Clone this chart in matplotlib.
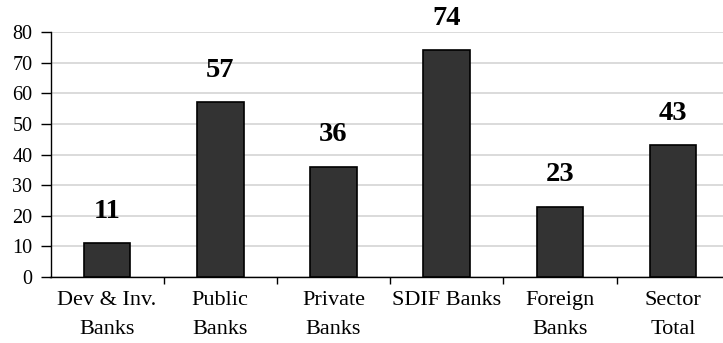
import matplotlib.pyplot as plt
import numpy as np

# 数据
categories = ['Dev & Inv.\nBanks', 'Public\nBanks', 'Private\nBanks',
              'SDIF Banks', 'Foreign\nBanks', 'Sector\nTotal']
values = [11, 57, 36, 74, 23, 43]

plt.rcParams['font.family'] = ['Liberation Serif', 'DejaVu Serif']

fig = plt.figure(figsize=(7.23, 3.43), dpi=100)
ax = fig.add_axes([50.5 / 723, 1 - 277 / 343, 1 - 50.5 / 723, (277 - 32) / 343])

x = np.arange(len(categories))
ax.bar(x, values, width=0.41, color='#333333', edgecolor='black', linewidth=1.2, zorder=3)

# 柱子上方的数值
for xi, v in zip(x, values):
    ax.annotate('%d' % v, (xi, v), xytext=(0, 14), textcoords='offset points',
                ha='center', va='bottom', fontsize=20.5, fontweight='bold')

ax.set_ylim(0, 80)
ax.set_xlim(-0.5, -0.5 + 672.5 / 113.2)
ax.set_yticks(range(0, 81, 10))
ax.yaxis.grid(True, color='#d4d4d4', linewidth=1.2, zorder=0)

# 刻度线在分类边界, 标签在分类中间
ax.set_xticks(x)
ax.set_xticklabels(categories, fontsize=16, linespacing=1.7)
ax.set_xticks(np.arange(len(categories) - 1) + 0.5, minor=True)
ax.tick_params(axis='x', which='major', length=0, pad=10)
ax.tick_params(axis='x', which='minor', length=5, width=1, direction='out')
ax.tick_params(axis='y', length=7, width=1, labelsize=14.5, pad=6)

for side in ['top', 'right']:
    ax.spines[side].set_visible(False)
for side in ['left', 'bottom']:
    ax.spines[side].set_linewidth(1)

plt.savefig('out.png', dpi=100)
